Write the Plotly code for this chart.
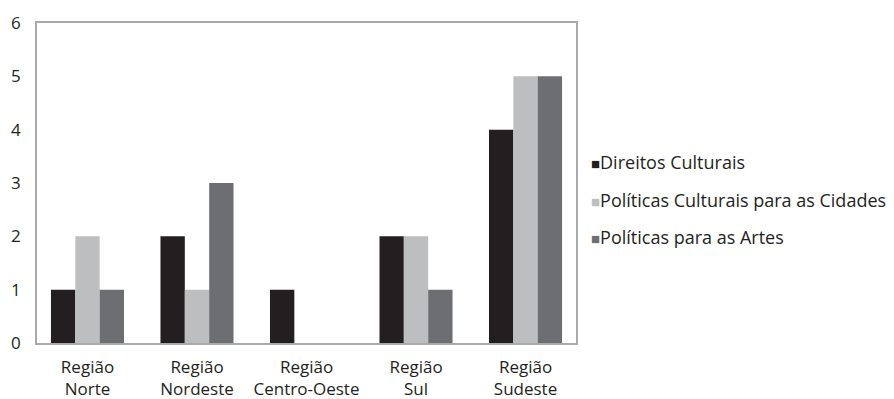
import plotly.graph_objects as go

categories = ["Região<br>Norte", "Região<br>Nordeste", "Região<br>Centro-Oeste", "Região<br>Sul", "Região<br>Sudeste"]
series_names = ["Direitos Culturais", "Políticas Culturais para as Cidades", "Políticas para as Artes"]
direitos = [1, 2, 1, 2, 4]
cidades = [2, 1, 0, 2, 5]
artes = [1, 3, 0, 1, 5]
colors = ["#231f20", "#bcbec0", "#6d6e71"]
y_ticks = [0, 1, 2, 3, 4, 5, 6]

FONT = "Open Sans"
TEXT = "#231f20"

fig = go.Figure()
for name, vals, col in zip(series_names, [direitos, cidades, artes], colors):
    fig.add_trace(go.Bar(x=list(range(len(categories))), y=vals, name=name,
                         marker=dict(color=col, line=dict(width=0)), showlegend=False))

# legend drawn as text rows: coloured square glyph followed by series name
for i, (name, col) in enumerate(zip(series_names, colors)):
    fig.add_annotation(xref="paper", yref="paper", x=1.0, xshift=13, y=0.565 - i * 0.117,
                       xanchor="left", yanchor="middle", showarrow=False,
                       text=f'<span style="color:{col};font-size:15px">■</span>{name}',
                       font=dict(family=FONT, size=18, color=TEXT))

fig.update_layout(
    width=894, height=399,
    margin=dict(l=37, r=318, t=23, b=56),
    paper_bgcolor="white", plot_bgcolor="white",
    barmode="group", bargap=0.333, bargroupgap=0,
    font=dict(family=FONT, size=17, color=TEXT),
    xaxis=dict(range=[-0.461, 4.461], tickmode="array", tickvals=list(range(len(categories))),
               ticktext=categories, showgrid=False, zeroline=False, ticks="",
               ticklabelstandoff=8, automargin=False,
               showline=True, linecolor="#a7a9ac", linewidth=1.5, mirror=True),
    yaxis=dict(range=[0, 6], tickmode="array", tickvals=y_ticks, showgrid=False, zeroline=False,
               ticks="", ticklabelstandoff=11, automargin=False,
               showline=True, linecolor="#a7a9ac", linewidth=1.5, mirror=True),
)

fig.write_html("out.html")
